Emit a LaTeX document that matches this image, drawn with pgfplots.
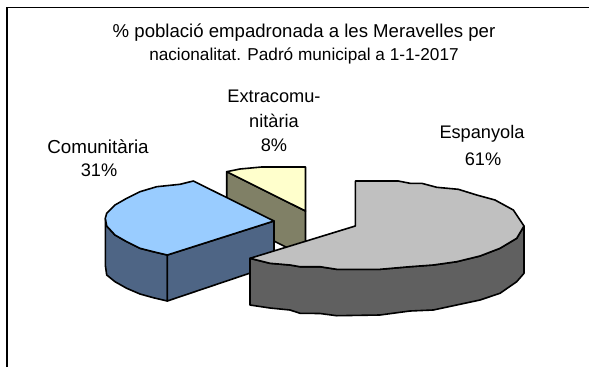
\documentclass[border=0pt]{standalone}
\usepackage{pgfplots}
\pgfplotsset{compat=1.18}
\usepackage{fontspec}
\setmainfont{Liberation Sans}
\definecolor{bluetop}{RGB}{153,204,255}
\definecolor{blueside}{RGB}{78,101,133}
\definecolor{yellowtop}{RGB}{255,255,204}
\definecolor{yellowside}{RGB}{128,128,102}
\definecolor{greytop}{RGB}{192,192,192}
\definecolor{greyside}{RGB}{96,96,96}
\tikzset{lbl/.style={font=\fontsize{18.2}{21}\selectfont, text=black, anchor=center, inner sep=0pt}}
\begin{document}
\begin{tikzpicture}
\begin{axis}[
  scale only axis, width=589pt, height=367pt,
  xmin=0, xmax=589, ymin=0, ymax=367, y dir=reverse,
  hide axis, clip=true, no markers,
  every axis plot/.append style={draw=black, line width=1.6pt, line join=round, forget plot},
]
% page extent
\addplot[draw=none] coordinates {(0,0) (589,367)};
% frame
\addplot[line width=1.2pt, line join=miter] coordinates {(7,367) (7,7.5) (589,7.5)};
% Extracomunitaria: side, top
\addplot[fill=yellowside] coordinates {(226.7,171.7) (305.5,211) (305.5,257) (226.7,217)} --cycle;
\addplot[fill=yellowtop] coordinates {(226.7,171.7) (240,169) (261.7,167) (305.5,167) (305.5,211)} --cycle;
% Comunitaria: sides, top
\addplot[fill=blueside] coordinates {(105.3,218.3) (106.7,226) (115,235) (126.7,241.7) (140,248.3) (153.3,251.7) (167.3,255) (167.3,301) (153.3,297.7) (140,294) (126.7,288.3) (115,281.7) (106.7,275) (105.3,265)} --cycle;
\addplot[fill=blueside] coordinates {(167.3,255) (274,221) (274,265) (167.3,301)} --cycle;
\addplot[fill=bluetop] coordinates {(167.3,255) (153.3,251.7) (140,248.3) (126.7,241.7) (115,235) (106.7,226) (105.3,218.3) (106.7,213.3) (115,205) (126.7,198.3) (140,191.7) (156.7,186.7) (180,184.3) (193.3,181) (274,221)} --cycle;
% Espanyola: side, top
\addplot[fill=greyside] coordinates {(250,258.3) (270,263.3) (290,265) (300,266.7) (320,266.7) (336.7,269.3) (380,269.3) (410,266.7) (433.3,265) (456.7,261.7) (480,256) (500,248.3) (516.7,238.3) (524,226) (524,273.3) (516.7,281.7) (500,293.3) (480,300) (456.7,305) (433.3,310) (410,311) (380,315) (336.7,315.7) (320,313.5) (300,313.3) (290,310) (270,308) (250,305)} --cycle;
\addplot[fill=greytop] coordinates {(355.3,181) (398.3,181) (410,183.3) (421.7,183.3) (436.7,187.3) (458.3,189.3) (476.7,195) (495,200) (513.3,210) (524,226) (516.7,238.3) (500,248.3) (480,256) (456.7,261.7) (433.3,265) (410,266.7) (380,269.3) (336.7,269.3) (320,266.7) (300,266.7) (290,265) (270,263.3) (250,258.3) (355.3,226)} --cycle;
% texts
\node[lbl,font=\fontsize{18.6}{21}\selectfont] at (axis cs:304,33) {\% població empadronada a les Meravelles per};
\node[lbl,font=\fontsize{17.2}{21}\selectfont] at (axis cs:304,56) {nacionalitat. Padró municipal a 1-1-2017};
\node[lbl] at (axis cs:274,96) {Extracomu-};
\node[lbl] at (axis cs:274,120.5) {nitària};
\node[lbl] at (axis cs:274,145) {8\%};
\node[lbl,font=\fontsize{18.8}{21}\selectfont] at (axis cs:98,146.5) {Comunitària};
\node[lbl] at (axis cs:99,170.5) {31\%};
\node[lbl] at (axis cs:482,134) {Espanyola};
\node[lbl] at (axis cs:483,159) {61\%};
\end{axis}
\end{tikzpicture}
\end{document}
